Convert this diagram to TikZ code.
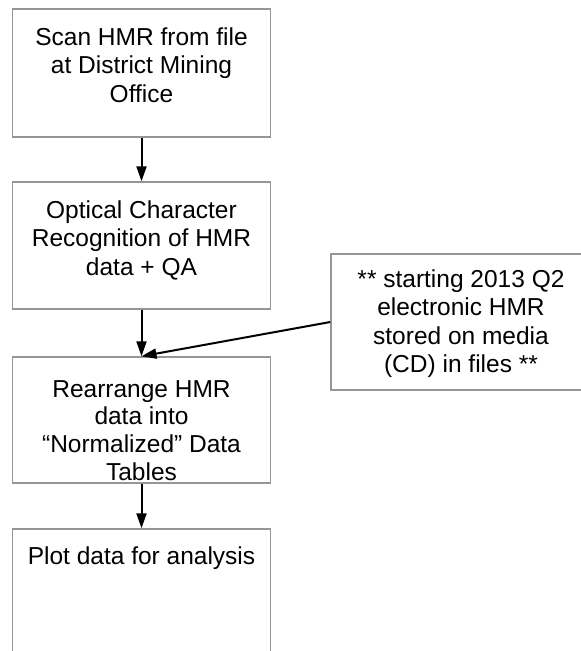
\documentclass[tikz,border=0pt]{standalone}
\usepackage{fontspec}
\setmainfont{Liberation Sans}
\usetikzlibrary{arrows.meta}
\definecolor{boxgray}{RGB}{150,150,150}
\begin{document}
\begin{tikzpicture}[x=1pt,y=-1pt,
  box/.style={draw=boxgray, line width=1.4pt, rectangle, inner sep=0pt},
  txt/.style={font=\fontsize{24.5}{28.7}\selectfont, align=center, inner sep=0pt, anchor=north},
  arr/.style={line width=2pt, -{Triangle[length=15pt,width=10pt]}}]
\useasboundingbox (0,0) rectangle (581,651);
\clip (0,0) rectangle (581,651);
\node[box, minimum width=258pt, minimum height=128pt] (b1) at (141.5,73) {};
\node[box, minimum width=258pt, minimum height=127pt] (b2) at (141.5,245.5) {};
\node[box, minimum width=258pt, minimum height=126pt] (b3) at (141.5,420) {};
\node[box, minimum width=258pt, minimum height=160pt] (b4) at (141.5,609) {};
\node[box, minimum width=260pt, minimum height=136pt] (r) at (461,322) {};
\node[txt] (t1) at (141.5,25) {\rule{0pt}{20pt}Scan HMR from file\\at District Mining\\Office};
\node[txt] (t2) at (141.5,198) {\rule{0pt}{20pt}Optical Character\\Recognition of HMR\\data + QA};
\node[txt, font=\fontsize{24.5}{27.7}\selectfont] (t3) at (141.5,377) {\rule{0pt}{20pt}Rearrange HMR\\data into\\“Normalized” Data\\Tables};
\node[txt] (t4) at (141.5,544) {\rule{0pt}{20pt}Plot data for analysis};
\node[txt, font=\fontsize{24.5}{28.4}\selectfont] (tr) at (461,267) {\rule{0pt}{20pt}** starting 2013 Q2\\electronic HMR\\stored on media\\(CD) in files **};
\draw[arr] (b1.south) -- (b2.north);
\draw[arr] (b2.south) -- (b3.north);
\draw[arr] (b3.south) -- (b4.north);
\draw[arr] (r.west) -- (b3.north);
\end{tikzpicture}
\end{document}
